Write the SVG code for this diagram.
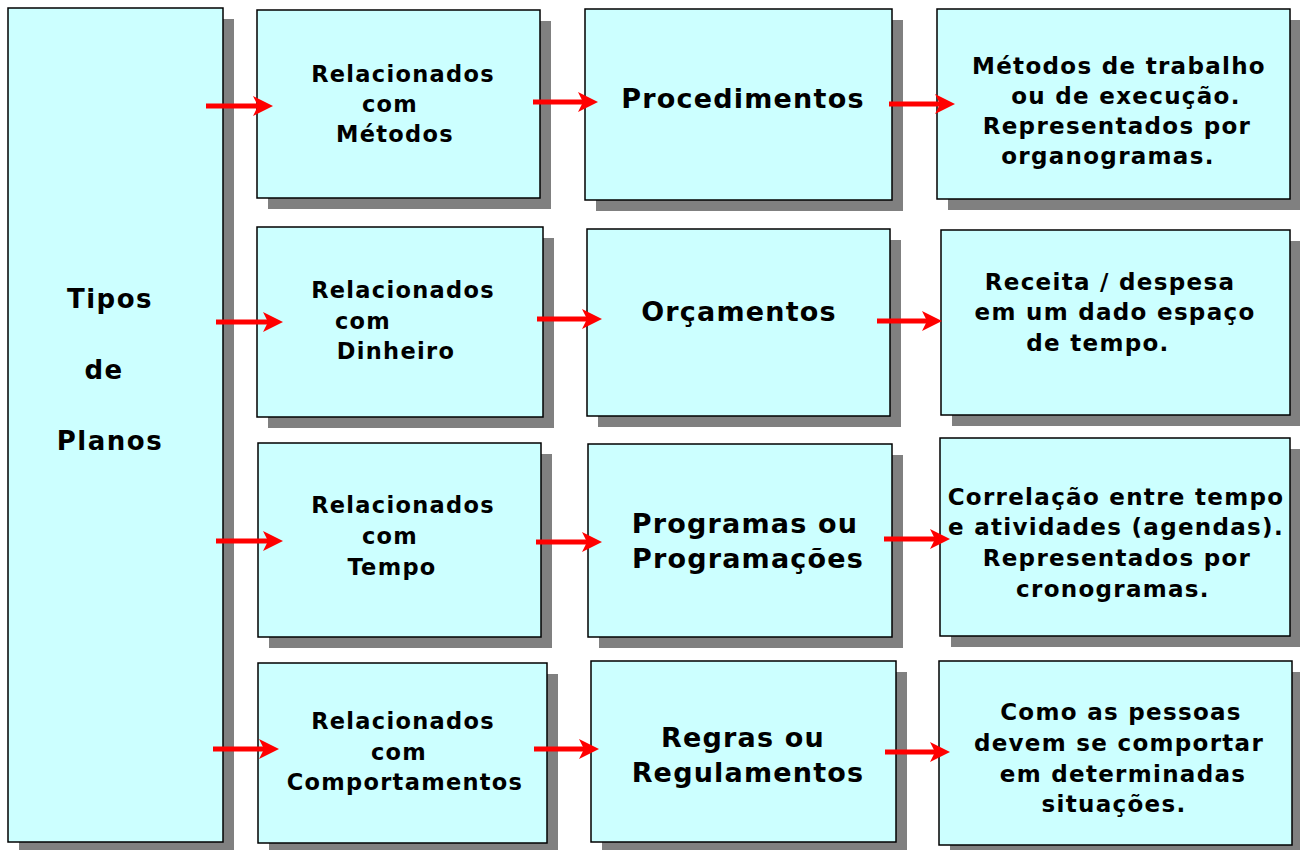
<svg xmlns="http://www.w3.org/2000/svg" width="1300" height="850" viewBox="0 0 1300 850">
<style>
.box{fill:#CCFFFF;stroke:#000;stroke-width:1.5}
.sh{fill:#808080}
text{font-family:"DejaVu Sans","Verdana",sans-serif;font-weight:bold;fill:#000;text-anchor:middle}
.t1{font-size:26px;letter-spacing:1.5px}
.t2{font-size:22.5px;letter-spacing:1.3px}
.t3{font-size:27px;letter-spacing:1.2px}
.t4{font-size:23px;letter-spacing:1.3px}
.arr{stroke:#FF0000;stroke-width:5;fill:none;marker-end:url(#ah)}
</style>
<defs>
<marker id="ah" viewBox="0 0 20 20" refX="10" refY="10" markerWidth="20" markerHeight="20" markerUnits="userSpaceOnUse" orient="auto">
<path d="M0,0 L20,10 L0,20 L5,10 Z" fill="#FF0000"/>
</marker>
</defs>
<rect width="1300" height="850" fill="#fff"/>
<g id="n-tipos">
<rect class="sh" x="19" y="19" width="215" height="834"/>
<rect class="box" x="8" y="8" width="215" height="834"/>
<text class="t1" x="110" y="308">Tipos</text>
<text class="t1" x="104" y="379">de</text>
<text class="t1" x="110" y="450">Planos</text>
</g>
<g id="n-metodos">
<rect class="sh" x="268" y="21" width="283" height="188"/>
<rect class="box" x="257" y="10" width="283" height="188"/>
<text class="t2" x="403" y="82">Relacionados</text>
<text class="t2" x="390" y="112">com</text>
<text class="t2" x="395" y="142">Métodos</text>
</g>
<g id="n-dinheiro">
<rect class="sh" x="268" y="238" width="286" height="190"/>
<rect class="box" x="257" y="227" width="286" height="190"/>
<text class="t2" x="403" y="298">Relacionados</text>
<text class="t2" x="363" y="329">com</text>
<text class="t2" x="396" y="359">Dinheiro</text>
</g>
<g id="n-tempo">
<rect class="sh" x="269" y="454" width="283" height="194"/>
<rect class="box" x="258" y="443" width="283" height="194"/>
<text class="t2" x="403" y="513">Relacionados</text>
<text class="t2" x="390" y="544">com</text>
<text class="t2" x="392" y="575">Tempo</text>
</g>
<g id="n-comport">
<rect class="sh" x="269" y="674" width="289" height="180"/>
<rect class="box" x="258" y="663" width="289" height="180"/>
<text class="t2" x="403" y="729">Relacionados</text>
<text class="t2" x="399" y="760">com</text>
<text class="t2" x="405" y="790">Comportamentos</text>
</g>
<g id="n-proced">
<rect class="sh" x="596" y="20" width="307" height="191"/>
<rect class="box" x="585" y="9" width="307" height="191"/>
<text class="t3" x="743" y="108">Procedimentos</text>
</g>
<g id="n-orcam">
<rect class="sh" x="598" y="240" width="303" height="187"/>
<rect class="box" x="587" y="229" width="303" height="187"/>
<text class="t3" x="739" y="321">Orçamentos</text>
</g>
<g id="n-program">
<rect class="sh" x="599" y="455" width="304" height="193"/>
<rect class="box" x="588" y="444" width="304" height="193"/>
<text class="t3" x="745" y="533">Programas ou</text>
<text class="t3" x="748" y="568">Programações</text>
</g>
<g id="n-regras">
<rect class="sh" x="602" y="672" width="305" height="181"/>
<rect class="box" x="591" y="661" width="305" height="181"/>
<text class="t3" x="743" y="747">Regras ou</text>
<text class="t3" x="748" y="782">Regulamentos</text>
</g>
<g id="n-desc1">
<rect class="sh" x="948" y="20" width="353" height="190"/>
<rect class="box" x="937" y="9" width="353" height="190"/>
<text class="t4" x="1119" y="74">Métodos de trabalho</text>
<text class="t4" x="1126" y="104">ou de execução.</text>
<text class="t4" x="1117" y="134">Representados por</text>
<text class="t4" x="1108" y="164">organogramas.</text>
</g>
<g id="n-desc2">
<rect class="sh" x="952" y="241" width="349" height="185"/>
<rect class="box" x="941" y="230" width="349" height="185"/>
<text class="t4" x="1110" y="290">Receita / despesa</text>
<text class="t4" x="1115" y="320">em um dado espaço</text>
<text class="t4" x="1098" y="351">de tempo.</text>
</g>
<g id="n-desc3">
<rect class="sh" x="951" y="449" width="350" height="198"/>
<rect class="box" x="940" y="438" width="350" height="198"/>
<text class="t4" x="1116" y="505">Correlação entre tempo</text>
<text class="t4" x="1116" y="535">e atividades (agendas).</text>
<text class="t4" x="1117" y="566">Representados por</text>
<text class="t4" x="1113" y="597">cronogramas.</text>
</g>
<g id="n-desc4">
<rect class="sh" x="950" y="672" width="353" height="184"/>
<rect class="box" x="939" y="661" width="353" height="184"/>
<text class="t4" x="1121" y="720">Como as pessoas</text>
<text class="t4" x="1119" y="751">devem se comportar</text>
<text class="t4" x="1123" y="782">em determinadas</text>
<text class="t4" x="1114" y="812">situações.</text>
</g>
<g id="connectors">
<line class="arr" x1="206" y1="106" x2="263" y2="106"/>
<line class="arr" x1="533" y1="102" x2="588" y2="102"/>
<line class="arr" x1="889" y1="104" x2="945" y2="104"/>
<line class="arr" x1="216" y1="322" x2="273" y2="322"/>
<line class="arr" x1="537" y1="319" x2="592" y2="319"/>
<line class="arr" x1="877" y1="321" x2="932" y2="321"/>
<line class="arr" x1="216" y1="541" x2="273" y2="541"/>
<line class="arr" x1="536" y1="542" x2="592" y2="542"/>
<line class="arr" x1="884" y1="539" x2="940" y2="539"/>
<line class="arr" x1="213" y1="749" x2="269" y2="749"/>
<line class="arr" x1="534" y1="749" x2="589" y2="749"/>
<line class="arr" x1="885" y1="752" x2="940" y2="752"/>
</g>
</svg>
